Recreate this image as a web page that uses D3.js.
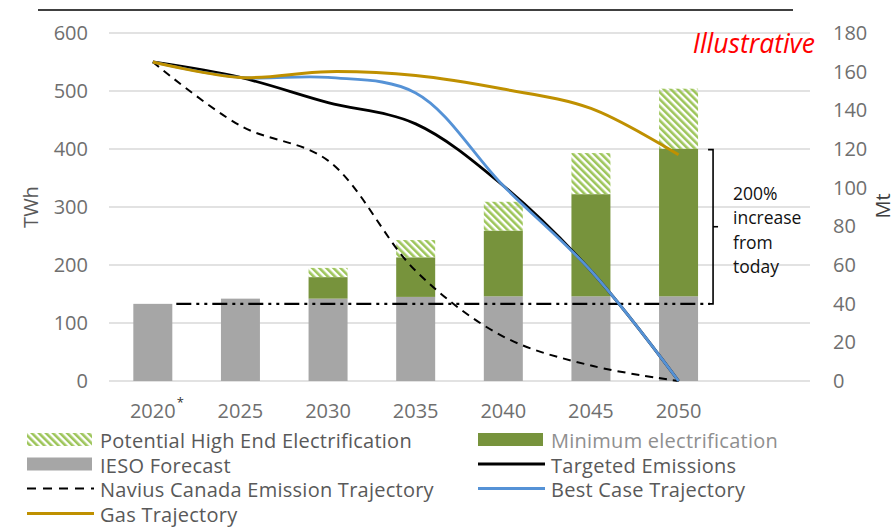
<!DOCTYPE html>
<html>
<head>
<meta charset="utf-8">
<script src="https://cdn.jsdelivr.net/npm/d3@7"></script>
<style>
body { margin: 0; background: #fff; }
svg { display: block; font-family: "Open Sans", sans-serif; }
</style>
</head>
<body>
<svg id="chart" width="895" height="527"></svg>
<script>
// categories
var years = ["2020", "2025", "2030", "2035", "2040", "2045", "2050"];

// bars, TWh (left axis)
var iesoForecast = [133, 142, 142, 145, 146, 146, 146];
var minElectrification = [0, 0, 37, 68, 113, 176, 254];
var highEndElectrification = [0, 0, 16, 30, 50, 71, 104];
var todayTWh = 133;

// lines, Mt (right axis)
var targetedEmissions = [165, 157, 144, 133, 101, 57, 0];
var bestCaseTrajectory = [165, 157, 157, 149, 101, 57, 0];
var naviusTrajectory = [165, 132, 114, 57, 23, 8, 0];
var gasTrajectory = [165, 157, 160, 158, 151, 141, 117];

var leftTicks = [0, 100, 200, 300, 400, 500, 600];
var rightTicks = [0, 20, 40, 60, 80, 100, 120, 140, 160, 180];

var svg = d3.select('#chart');

var plotLeft = 109, plotRight = 810, plotTop = 33, plotBottom = 381;

// excel left an empty 8th slot at the end of the category axis
var x = d3.scaleBand()
    .domain(years.concat(["_"]))
    .range([plotLeft, plotRight])
    .paddingInner(0.555)
    .paddingOuter(0.2775);
var yL = d3.scaleLinear().domain([0, 600]).range([plotBottom, plotTop]);
var yR = d3.scaleLinear().domain([0, 180]).range([plotBottom, plotTop]);

// hatch pattern
var defs = svg.append('defs');
defs.append('pattern')
    .attr('id', 'hatch')
    .attr('patternUnits', 'userSpaceOnUse')
    .attr('width', 5)
    .attr('height', 5)
    .attr('patternTransform', 'rotate(-45)')
    .append('rect')
    .attr('width', 2.6)
    .attr('height', 5)
    .attr('fill', '#9dc55a');

// top rule
svg.append('line')
    .attr('x1', 38).attr('x2', 793)
    .attr('y1', 10).attr('y2', 10)
    .attr('stroke', '#404040')
    .attr('stroke-width', 2);

// gridlines
svg.append('g')
    .selectAll('line')
    .data(leftTicks)
    .enter()
    .append('line')
    .attr('x1', plotLeft).attr('x2', plotRight)
    .attr('y1', d => yL(d)).attr('y2', d => yL(d))
    .attr('stroke', '#d9d9d9')
    .attr('stroke-width', 1.3);

// bars
var bars = svg.append('g');
years.forEach(function (yr, i) {
    var b0 = 0, b1 = iesoForecast[i], b2 = b1 + minElectrification[i], b3 = b2 + highEndElectrification[i];
    bars.append('rect')
        .attr('x', x(yr)).attr('width', x.bandwidth())
        .attr('y', yL(b1)).attr('height', yL(b0) - yL(b1))
        .attr('fill', '#a6a6a6');
    if (minElectrification[i] > 0) {
        bars.append('rect')
            .attr('x', x(yr)).attr('width', x.bandwidth())
            .attr('y', yL(b2)).attr('height', yL(b1) - yL(b2))
            .attr('fill', '#77933c');
    }
    if (highEndElectrification[i] > 0) {
        bars.append('rect')
            .attr('x', x(yr)).attr('width', x.bandwidth())
            .attr('y', yL(b3)).attr('height', yL(b2) - yL(b3))
            .attr('fill', 'url(#hatch)');
    }
});

// today level dash-dot-dot line and bracket
var lastYear = years[years.length - 1];
var bracketX = x(lastYear) + x.bandwidth() + 15;
svg.append('line')
    .attr('x1', x(years[0]) + x.bandwidth() + 4).attr('x2', bracketX - 3)
    .attr('y1', yL(todayTWh)).attr('y2', yL(todayTWh))
    .attr('stroke', '#000')
    .attr('stroke-width', 2.2)
    .attr('stroke-dasharray', '15,5,3,5,3,5');

var topVal = iesoForecast[0] * 3;
svg.append('path')
    .attr('d', 'M' + (bracketX - 5) + ',' + yL(topVal) + 'H' + bracketX + 'V' + yL(todayTWh) + 'H' + (bracketX - 5))
    .attr('fill', 'none')
    .attr('stroke', '#000')
    .attr('stroke-width', 1.6);
var midY = (yL(topVal) + yL(todayTWh)) / 2;
svg.append('line')
    .attr('x1', bracketX).attr('x2', bracketX + 5)
    .attr('y1', midY).attr('y2', midY)
    .attr('stroke', '#000')
    .attr('stroke-width', 1.6);

svg.append('text')
    .attr('x', bracketX + 20)
    .attr('y', 200)
    .attr('font-size', 17.5)
    .attr('fill', '#111')
    .selectAll('tspan')
    .data(["200%", "increase", "from", "today"])
    .enter()
    .append('tspan')
    .attr('x', bracketX + 20)
    .attr('dy', (d, i) => i === 0 ? 0 : 24.3)
    .text(d => d);

// lines
var line = d3.line()
    .x((d, i) => x(years[i]) + x.bandwidth() / 2)
    .y(d => yR(d))
    .curve(d3.curveCatmullRom.alpha(0.5));

svg.append('path')
    .datum(naviusTrajectory)
    .attr('d', line)
    .attr('fill', 'none')
    .attr('stroke', '#000')
    .attr('stroke-width', 2)
    .attr('stroke-dasharray', '8,6');

svg.append('path')
    .datum(targetedEmissions)
    .attr('d', line)
    .attr('fill', 'none')
    .attr('stroke', '#000')
    .attr('stroke-width', 2.8);

svg.append('path')
    .datum(bestCaseTrajectory)
    .attr('d', line)
    .attr('fill', 'none')
    .attr('stroke', '#5592d6')
    .attr('stroke-width', 2.8);

svg.append('path')
    .datum(gasTrajectory)
    .attr('d', line)
    .attr('fill', 'none')
    .attr('stroke', '#bf9000')
    .attr('stroke-width', 3);

// axes
var tickColor = '#6f6f6f';
var gL = svg.append('g')
    .attr('transform', 'translate(' + plotLeft + ',0)')
    .call(d3.axisLeft(yL).tickValues(leftTicks).tickSize(0).tickPadding(21));
var gR = svg.append('g')
    .attr('transform', 'translate(' + plotRight + ',0)')
    .call(d3.axisRight(yR).tickValues(rightTicks).tickSize(0).tickPadding(23));
var gX = svg.append('g')
    .attr('transform', 'translate(0,' + plotBottom + ')')
    .call(d3.axisBottom(x).tickValues(years).tickSize(0).tickPadding(23));
[gL, gR, gX].forEach(function (g) {
    g.select('.domain').remove();
    g.selectAll('text')
        .attr('font-size', 20)
        .attr('font-family', '"Open Sans", sans-serif')
        .attr('fill', tickColor);
});

// asterisk on 2020
var firstLabel = gX.select('.tick text').node();
var fw = firstLabel.getComputedTextLength();
svg.append('text')
    .attr('x', x(years[0]) + x.bandwidth() / 2 + fw / 2 + 1)
    .attr('y', 407)
    .attr('font-size', 13)
    .attr('fill', '#333')
    .text('*');

// axis titles
svg.append('text')
    .attr('transform', 'translate(38,207) rotate(-90)')
    .attr('text-anchor', 'middle')
    .attr('font-size', 20)
    .attr('fill', '#595959')
    .text('TWh');
svg.append('text')
    .attr('transform', 'translate(890,206) rotate(-90)')
    .attr('text-anchor', 'middle')
    .attr('font-size', 20)
    .attr('fill', '#404040')
    .text('Mt');

svg.append('text')
    .attr('x', 815)
    .attr('y', 53)
    .attr('text-anchor', 'end')
    .attr('font-size', 26.5)
    .attr('font-style', 'italic')
    .attr('fill', '#ff0000')
    .text('Illustrative');

// legend
var legendItems = [
    {label: "Potential High End Electrification", type: "hatch", col: 0, row: 0},
    {label: "Minimum electrification", type: "green", col: 1, row: 0},
    {label: "IESO Forecast", type: "gray", col: 0, row: 1},
    {label: "Targeted Emissions", type: "black", col: 1, row: 1},
    {label: "Navius Canada Emission Trajectory", type: "dash", col: 0, row: 2},
    {label: "Best Case Trajectory", type: "blue", col: 1, row: 2},
    {label: "Gas Trajectory", type: "gold", col: 0, row: 3}
];
var colX = [27, 478];
var rowBase = [448, 472.5, 497, 522];

var legend = svg.append('g');
legendItems.forEach(function (it) {
    var sx = colX[it.col], base = rowBase[it.row], cy = base - 8.5;
    if (it.type === 'hatch' || it.type === 'green' || it.type === 'gray') {
        legend.append('rect')
            .attr('x', sx).attr('width', 65)
            .attr('y', cy - 6.5).attr('height', 13)
            .attr('fill', it.type === 'hatch' ? 'url(#hatch)' : it.type === 'green' ? '#77933c' : '#a6a6a6');
    } else {
        var st = {black: '#000', dash: '#000', blue: '#5592d6', gold: '#bf9000'}[it.type];
        legend.append('line')
            .attr('x1', sx).attr('x2', sx + 67)
            .attr('y1', cy).attr('y2', cy)
            .attr('stroke', st)
            .attr('stroke-width', it.type === 'dash' ? 2 : 3)
            .attr('stroke-dasharray', it.type === 'dash' ? '9,7' : null);
    }
    legend.append('text')
        .attr('x', sx + 73)
        .attr('y', base)
        .attr('font-size', 20)
        .attr('letter-spacing', 0.25)
        .attr('fill', it.type === 'green' ? '#8f8f8f' : '#595959')
        .text(it.label);
});
</script>
</body>
</html>
